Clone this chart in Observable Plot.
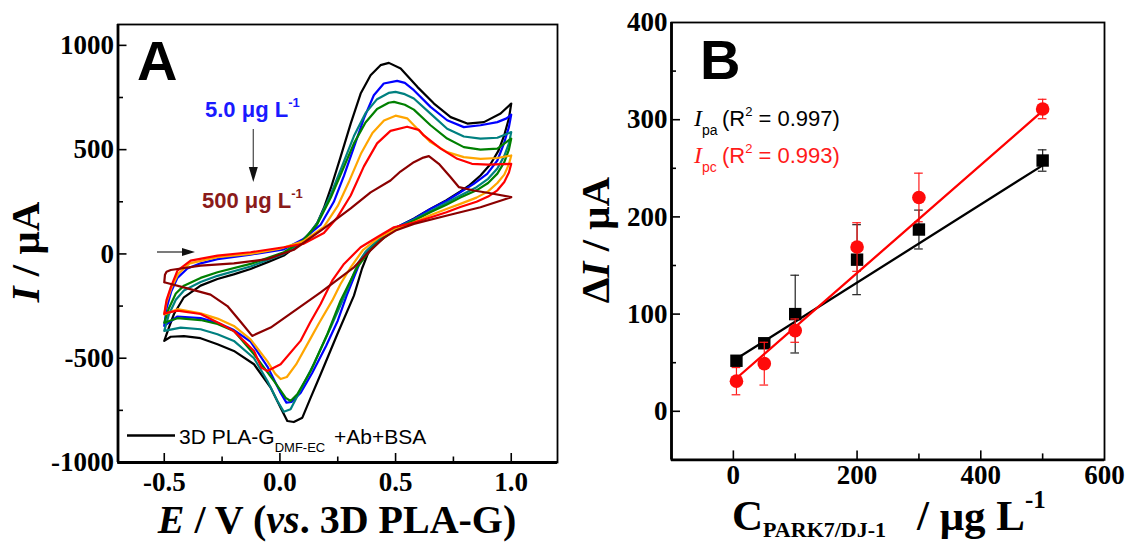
<!DOCTYPE html>
<html><head><meta charset="utf-8">
<script src="https://cdn.jsdelivr.net/npm/d3@7"></script>
<script src="https://cdn.jsdelivr.net/npm/@observablehq/plot@0.6"></script>
<style>
html,body{margin:0;padding:0;background:#fff;}
#wrap{position:relative;width:1127px;height:542px;overflow:hidden;background:#fff;}
#wrap svg{position:absolute;top:0;}
</style></head><body><div id="wrap"></div>
<script>
// ---------- Panel A: cyclic voltammograms (E in V, I in µA) ----------
const cvBlack = [[-0.5,-417],[-0.48,-353],[-0.458,-288],[-0.415,-208],[-0.343,-152],[-0.27,-120],[-0.2,-98],[-0.127,-72],[-0.05,-38],[0.017,-8],[0.075,40],[0.13,100],[0.162,150],[0.19,220],[0.22,315],[0.262,464],[0.306,625],[0.349,769],[0.392,857],[0.435,905],[0.471,916],[0.522,889],[0.594,801],[0.666,721],[0.738,656],[0.81,625],[0.882,632],[0.954,673],[1.0,721],
  [0.99,650],[0.97,570],[0.945,495],[0.91,430],[0.867,376],[0.82,330],[0.78,300],[0.72,258],[0.65,216],[0.58,170],[0.5,125],[0.45,90],[0.41,50],[0.38,0],[0.355,-70],[0.32,-200],[0.248,-385],[0.176,-577],[0.133,-689],[0.097,-785],[0.06,-806],[0.032,-801],[0.003,-737],[-0.04,-641],[-0.112,-529],[-0.199,-465],[-0.27,-433],[-0.343,-404],[-0.415,-394],[-0.472,-397],[-0.5,-417]];
const cvBlue = [[-0.5,-345],[-0.49,-260],[-0.47,-180],[-0.443,-115],[-0.4,-70],[-0.343,-45],[-0.27,-25],[-0.127,-3],[0.017,22],[0.1,70],[0.176,140],[0.233,250],[0.277,375],[0.32,512],[0.363,650],[0.406,761],[0.449,817],[0.507,830],[0.54,820],[0.579,785],[0.651,705],[0.723,641],[0.795,608],[0.867,617],[0.94,632],[0.98,650],[1.0,668],
  [0.99,608],[0.968,528],[0.94,448],[0.896,384],[0.838,336],[0.78,296],[0.723,256],[0.651,216],[0.579,168],[0.5,126],[0.42,64],[0.378,16],[0.349,-32],[0.32,-112],[0.291,-192],[0.25,-320],[0.2,-440],[0.14,-570],[0.09,-665],[0.05,-710],[0.028,-713],[0.0,-660],[-0.054,-540],[-0.127,-420],[-0.199,-365],[-0.27,-330],[-0.343,-308],[-0.443,-300],[-0.5,-345]];
const cvTeal = [[-0.5,-369],[-0.48,-290],[-0.45,-220],[-0.415,-175],[-0.343,-135],[-0.27,-105],[-0.127,-60],[0.017,0],[0.1,62],[0.16,145],[0.22,285],[0.27,425],[0.32,565],[0.37,675],[0.42,742],[0.47,772],[0.5,777],[0.54,766],[0.579,745],[0.651,673],[0.723,600],[0.795,563],[0.867,553],[0.94,557],[1.0,584],
  [0.99,530],[0.97,470],[0.94,410],[0.9,360],[0.85,320],[0.78,280],[0.72,245],[0.65,205],[0.58,165],[0.5,122],[0.42,62],[0.37,10],[0.34,-40],[0.31,-120],[0.28,-200],[0.22,-350],[0.15,-520],[0.09,-650],[0.046,-745],[0.017,-757],[-0.011,-705],[-0.054,-609],[-0.112,-500],[-0.199,-417],[-0.27,-385],[-0.343,-361],[-0.429,-353],[-0.5,-369]];
const cvGreen = [[-0.5,-330],[-0.48,-260],[-0.45,-190],[-0.415,-152],[-0.343,-115],[-0.27,-88],[-0.127,-48],[0.017,8],[0.1,65],[0.16,140],[0.22,270],[0.27,400],[0.32,530],[0.37,630],[0.42,695],[0.47,725],[0.493,729],[0.54,715],[0.579,692],[0.651,617],[0.723,553],[0.795,512],[0.867,500],[0.94,505],[1.0,553],
  [0.99,500],[0.97,440],[0.94,385],[0.9,340],[0.85,305],[0.78,270],[0.72,236],[0.65,200],[0.58,160],[0.5,118],[0.43,60],[0.392,20],[0.334,-64],[0.298,-144],[0.262,-224],[0.205,-385],[0.133,-561],[0.075,-673],[0.046,-705],[0.025,-690],[-0.026,-609],[-0.112,-481],[-0.199,-369],[-0.27,-336],[-0.343,-317],[-0.443,-308],[-0.5,-330]];
const cvOrange = [[-0.5,-290],[-0.49,-230],[-0.47,-165],[-0.44,-95],[-0.39,-45],[-0.27,-15],[-0.127,0],[0.0,25],[0.1,60],[0.19,130],[0.25,230],[0.3,350],[0.35,480],[0.4,580],[0.45,640],[0.5,663],[0.55,650],[0.579,617],[0.651,536],[0.723,488],[0.795,464],[0.867,456],[0.94,460],[1.0,472],
  [0.99,430],[0.97,380],[0.94,340],[0.9,300],[0.85,270],[0.78,240],[0.72,215],[0.65,185],[0.58,152],[0.5,118],[0.43,80],[0.36,20],[0.306,-64],[0.262,-144],[0.226,-224],[0.17,-330],[0.12,-430],[0.07,-530],[0.03,-590],[0.003,-600],[-0.02,-575],[-0.054,-515],[-0.127,-410],[-0.199,-345],[-0.27,-310],[-0.343,-285],[-0.443,-265],[-0.5,-290]];
const cvRed = [[-0.5,-288],[-0.49,-220],[-0.472,-160],[-0.443,-80],[-0.386,-32],[-0.27,-8],[-0.127,8],[0.017,32],[0.1,48],[0.19,100],[0.248,175],[0.306,280],[0.363,420],[0.42,530],[0.478,590],[0.55,610],[0.6,595],[0.622,568],[0.695,505],[0.767,456],[0.83,432],[0.9,428],[1.0,432],
  [0.99,390],[0.97,345],[0.94,305],[0.9,275],[0.85,250],[0.78,225],[0.72,200],[0.65,175],[0.58,150],[0.493,128],[0.42,80],[0.349,32],[0.277,-48],[0.226,-128],[0.176,-240],[0.13,-330],[0.089,-417],[0.003,-529],[-0.054,-561],[-0.08,-545],[-0.112,-465],[-0.199,-370],[-0.256,-336],[-0.343,-288],[-0.443,-272],[-0.5,-285]];
const cvDarkRed = [[-0.5,-136],[-0.497,-100],[-0.49,-85],[-0.472,-77],[-0.343,-56],[-0.199,-45],[-0.054,-25],[0.06,20],[0.205,135],[0.306,218],[0.392,295],[0.478,352],[0.521,395],[0.579,440],[0.62,462],[0.644,469],[0.687,432],[0.738,368],[0.774,320],[0.838,304],[0.91,291],[1.0,272],
  [0.867,224],[0.723,184],[0.579,144],[0.5,112],[0.45,78],[0.38,5],[0.32,-64],[0.176,-184],[0.032,-297],[-0.04,-353],[-0.12,-393],[-0.17,-325],[-0.227,-250],[-0.3,-195],[-0.4,-165],[-0.5,-136]];
const cvNames = ["black","blue","teal","green","orange","red","darkred"];
const cvColors = ["#000000","#1a1aff","#169a9a","#15891a","#ff9400","#ff1010","#8a0f0f"];
const cvCurves = [cvBlack, cvBlue, cvTeal, cvGreen, cvOrange, cvRed, cvDarkRed];
const aMajorX = [-0.5, 0, 0.5, 1.0];
const aMinorX = [-0.25, 0.25, 0.75];
const aMajorY = [-1000, -500, 0, 500, 1000];
const aMinorY = [-750, -250, 250, 750];

// ---------- Panel B: calibration (µg/L vs ΔI µA) ----------
const concX = [5, 50, 100, 200, 300, 500];
const ipa = [52, 70, 100, 156, 187, 258];
const ipaErr = [5, 4, 40, 36, 20, 11];
const ipc = [31, 49, 83, 169, 220, 311];
const ipcErr = [14, 22, 12, 25, 25, 10];
const fitX = [5, 500];
const ipaFit = [54, 253];
const ipcFit = [34, 309];
const bMajorX = [0, 200, 400, 600];
const bMinorX = [100, 300, 500];
const bMajorY = [0, 100, 200, 300, 400];
const bMinorY = [50, 150, 250, 350];

const wrap = document.getElementById("wrap");
const serif = "'Liberation Serif','Times New Roman',serif";
const sans = "'Liberation Sans',Arial,Helvetica,sans-serif";

function rich(svg, o) {
  const t = d3.select(svg).append("text")
    .attr("font-family", o.family).attr("font-size", o.size)
    .attr("font-weight", o.weight || "normal")
    .attr("fill", o.fill || "#000").attr("text-anchor", o.anchor || "start")
    .style("white-space", "pre");
  if (o.rotate) t.attr("transform", `translate(${o.x},${o.y}) rotate(${o.rotate})`);
  else t.attr("x", o.x).attr("y", o.y);
  let prev = 0;
  for (const p of o.parts) {
    const s = t.append("tspan").text(p.t);
    const shift = p.shift || 0;
    if (shift !== prev) s.attr("dy", shift - prev);
    prev = shift;
    if (p.x != null) s.attr("x", p.x);
    if (p.size) s.attr("font-size", p.size);
    if (p.style) s.attr("font-style", p.style);
    if (p.family) s.attr("font-family", p.family);
    if (p.weight) s.attr("font-weight", p.weight);
    if (p.fill) s.attr("fill", p.fill);
  }
  return t;
}

// ----- Plot A -----
const cvData = cvCurves.flatMap((c, k) => c.map(([E, I], i) => ({series: cvNames[k], E, I, i})));
const aW = 575, aH = 542, aML = 117.5, aMR = 18, aMT = 24, aMB = 80;
const aFW = aW - aML - aMR, aFH = aH - aMT - aMB;
const tickFont = {fontSize: 27, fontWeight: "bold", fontFamily: serif};
const plotA = Plot.plot({
  width: aW, height: aH,
  marginLeft: aML, marginRight: aMR, marginTop: aMT, marginBottom: aMB,
  x: {domain: [-0.7, 1.2], label: null},
  y: {domain: [-1000, 1100], label: null},
  color: {domain: cvNames, range: cvColors},
  style: {background: "white", overflow: "visible", fontFamily: serif},
  marks: [
    Plot.line(cvData, {x: "E", y: "I", z: "series", stroke: "series", strokeWidth: 2.2, strokeLinejoin: "round"}),
    Plot.frame({strokeWidth: 1.8}),
    Plot.ruleY([-1000], {strokeWidth: 2.8}),
    Plot.ruleX([-0.7], {strokeWidth: 2.8}),
    Plot.tickX(aMajorX, {x: d => d, insetTop: aFH - 9, strokeWidth: 1.6}),
    Plot.tickX(aMinorX, {x: d => d, insetTop: aFH - 5.5, strokeWidth: 1.6}),
    Plot.tickY(aMajorY, {y: d => d, insetRight: aFW - 9, strokeWidth: 1.6}),
    Plot.tickY(aMinorY, {y: d => d, insetRight: aFW - 5.5, strokeWidth: 1.6}),
    Plot.axisX(aMajorX, {tickSize: 0, tickPadding: 9, tickFormat: d => d.toFixed(1), ...tickFont}),
    Plot.axisY(aMajorY, {tickSize: 0, tickPadding: 4, tickFormat: d => String(d), ...tickFont})
  ]
});
plotA.style.left = "0px";
wrap.appendChild(plotA);

// annotations A
rich(plotA, {x: 137, y: 80, family: sans, size: 56, weight: "bold", parts: [{t: "A"}]});
rich(plotA, {x: 205, y: 117, family: sans, size: 22, weight: "bold", fill: "#1a1aff",
  parts: [{t: "5.0 \u03bcg L"}, {t: "-1", size: 13, shift: -10}]});
rich(plotA, {x: 202, y: 208, family: sans, size: 22, weight: "bold", fill: "#8a1a1a",
  parts: [{t: "500 \u03bcg L"}, {t: "-1", size: 13, shift: -10}]});
{
  const g = d3.select(plotA).append("g");
  g.append("line").attr("x1", 253.3).attr("x2", 253.3).attr("y1", 129).attr("y2", 170).attr("stroke", "#555").attr("stroke-width", 1.3);
  g.append("path").attr("d", "M248.8,167 L257.8,167 L253.3,182 Z").attr("fill", "#111");
  g.append("line").attr("x1", 157).attr("x2", 185).attr("y1", 252).attr("y2", 252).attr("stroke", "#333").attr("stroke-width", 1.3);
  g.append("path").attr("d", "M182,248 L195,252 L182,256 Z").attr("fill", "#111");
  g.append("line").attr("x1", 127).attr("x2", 175).attr("y1", 435.5).attr("y2", 435.5).attr("stroke", "#000").attr("stroke-width", 2.6);
}
rich(plotA, {x: 179, y: 444, family: sans, size: 21, parts: [
  {t: "3D PLA-G"}, {t: "DMF-EC", size: 13, shift: 8}, {t: "+Ab+BSA", x: 334, shift: 0}]});
rich(plotA, {x: 337, y: 533, family: serif, size: 40, weight: "bold", anchor: "middle", parts: [
  {t: "E", style: "italic"}, {t: " / V ("}, {t: "vs", style: "italic"}, {t: ". 3D PLA-G)"}]});
rich(plotA, {x: 39, y: 252, rotate: -90, family: serif, size: 41, weight: "bold", anchor: "middle", parts: [
  {t: "I", style: "italic"}, {t: " / \u03bcA"}]});

// ----- Plot B -----
const bLeft = 575;
const bW = 552, bH = 542, bML = 96, bMR = 23, bMT = 22, bMB = 82.6;
const bFW = bW - bML - bMR, bFH = bH - bMT - bMB;
const pts = concX.map((x, i) => ({x, pa: ipa[i], paE: ipaErr[i], pc: ipc[i], pcE: ipcErr[i]}));
const fitData = fitX.map((x, i) => ({x, pa: ipaFit[i], pc: ipcFit[i]}));
const cap = 7;
const plotB = Plot.plot({
  width: bW, height: bH,
  marginLeft: bML, marginRight: bMR, marginTop: bMT, marginBottom: bMB,
  x: {domain: [-100, 600], label: null},
  y: {domain: [-50, 400], label: null},
  style: {background: "white", overflow: "visible", fontFamily: serif},
  marks: [
    Plot.frame({strokeWidth: 1.8}),
    Plot.ruleY([-50], {strokeWidth: 2.8}),
    Plot.ruleX([-100], {strokeWidth: 2.8}),
    Plot.tickX(bMajorX.filter(d => d < 600), {x: d => d, insetTop: bFH - 9, strokeWidth: 1.6}),
    Plot.tickX(bMinorX, {x: d => d, insetTop: bFH - 6, strokeWidth: 1.6}),
    Plot.tickY(bMajorY.filter(d => d < 400), {y: d => d, insetRight: bFW - 9, strokeWidth: 1.6}),
    Plot.tickY(bMinorY, {y: d => d, insetRight: bFW - 5, strokeWidth: 1.6}),
    Plot.axisX(bMajorX, {tickSize: 0, tickPadding: 5, tickFormat: d => String(d), ...tickFont}),
    Plot.axisY(bMajorY, {tickSize: 0, tickPadding: 4, tickFormat: d => String(d), ...tickFont}),
    // Ipa error bars, line, markers
    Plot.ruleX(pts, {x: "x", y1: d => d.pa - d.paE, y2: d => d.pa + d.paE, stroke: "#222", strokeWidth: 1.2}),
    Plot.ruleY(pts, {y: d => d.pa + d.paE, x1: d => d.x - cap, x2: d => d.x + cap, stroke: "#222", strokeWidth: 1.2}),
    Plot.ruleY(pts, {y: d => d.pa - d.paE, x1: d => d.x - cap, x2: d => d.x + cap, stroke: "#222", strokeWidth: 1.2}),
    Plot.line(fitData, {x: "x", y: "pa", stroke: "#000", strokeWidth: 2.3}),
    Plot.dot(pts, {x: "x", y: "pa", symbol: "square", r: 7, fill: "#000", stroke: "none"}),
    // Ipc
    Plot.ruleX(pts, {x: "x", y1: d => d.pc - d.pcE, y2: d => d.pc + d.pcE, stroke: "#ff1a1a", strokeWidth: 1.2}),
    Plot.ruleY(pts, {y: d => d.pc + d.pcE, x1: d => d.x - cap, x2: d => d.x + cap, stroke: "#ff1a1a", strokeWidth: 1.2}),
    Plot.ruleY(pts, {y: d => d.pc - d.pcE, x1: d => d.x - cap, x2: d => d.x + cap, stroke: "#ff1a1a", strokeWidth: 1.2}),
    Plot.line(fitData, {x: "x", y: "pc", stroke: "#ff0000", strokeWidth: 2.3}),
    Plot.dot(pts, {x: "x", y: "pc", r: 6.8, fill: "#ff0a0a", stroke: "none"})
  ]
});
plotB.style.left = bLeft + "px";
wrap.appendChild(plotB);

rich(plotB, {x: 700 - bLeft, y: 79, family: sans, size: 56, weight: "bold", parts: [{t: "B"}]});
rich(plotB, {x: 694 - bLeft, y: 126, family: sans, size: 22, fill: "#000", parts: [
  {t: "I", family: serif, style: "italic", size: 24},
  {t: "pa", size: 14, shift: 9},
  {t: "(R", x: 722 - bLeft, shift: 0},
  {t: "2", size: 13, shift: -10},
  {t: " = 0.997)", shift: 0}]});
rich(plotB, {x: 694 - bLeft, y: 163, family: sans, size: 22, fill: "#ff1a1a", parts: [
  {t: "I", family: serif, style: "italic", size: 24},
  {t: "pc", size: 14, shift: 9},
  {t: "(R", x: 722 - bLeft, shift: 0},
  {t: "2", size: 13, shift: -10},
  {t: " = 0.993)", shift: 0}]});
rich(plotB, {x: 609 - bLeft, y: 240, rotate: -90, family: serif, size: 41, weight: "bold", anchor: "middle", parts: [
  {t: "\u0394"}, {t: "I", style: "italic"}, {t: " / \u03bcA"}]});
rich(plotB, {x: 732 - bLeft, y: 530, family: serif, size: 43, weight: "bold", parts: [
  {t: "C"}, {t: "PARK7/DJ-1", size: 22, shift: 7},
  {t: "/ \u03bcg L", x: 917 - bLeft, shift: 0},
  {t: "-1", size: 25, shift: -22}]});
</script></body></html>
